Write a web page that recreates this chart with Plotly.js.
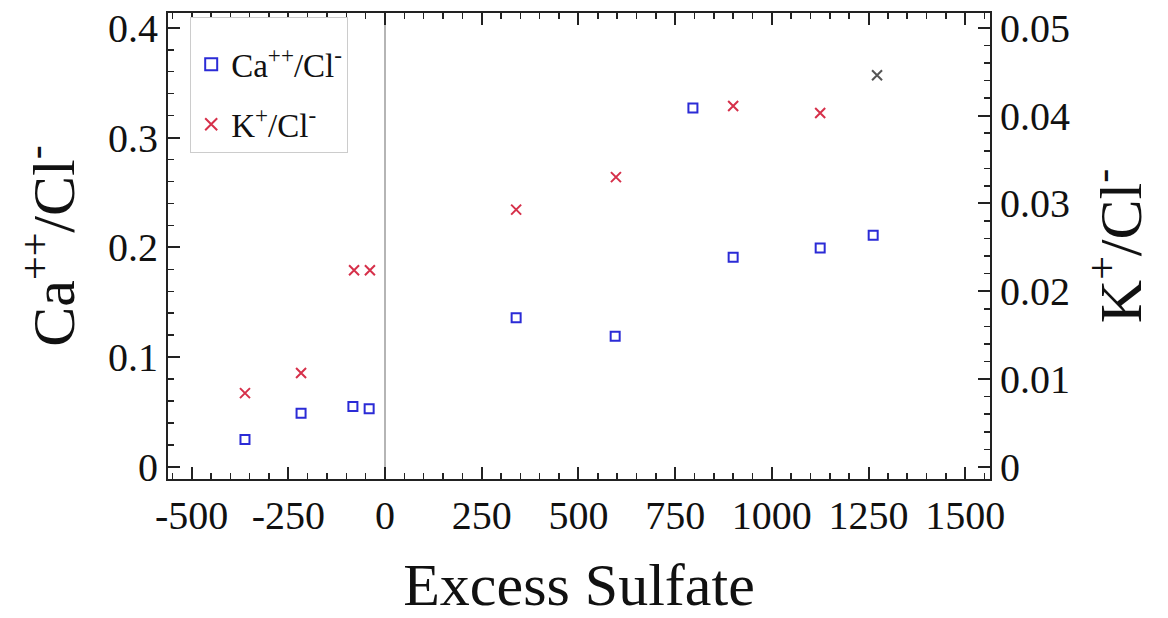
<!DOCTYPE html>
<html>
<head>
<meta charset="utf-8">
<script src="https://cdn.plot.ly/plotly-3.0.1.min.js"></script>
<style>html,body{margin:0;padding:0;background:#fff;}#chart{width:1168px;height:618px;}</style>
</head>
<body>
<div id="chart"></div>
<script>
// Data
var caExcess = [-362, -217, -83, -41, 339, 595, 796, 900, 1125, 1262];
var caRatio  = [0.025, 0.049, 0.055, 0.053, 0.136, 0.119, 0.327, 0.191, 0.1995, 0.211];
var kExcess  = [-362, -217, -80, -39, 339, 597, 900, 1125, 1272];
var kRatio   = [0.0084, 0.0107, 0.0224, 0.0224, 0.0293, 0.0330, 0.0411, 0.0403, 0.0446];
var xTicks   = [-500, -250, 0, 250, 500, 750, 1000, 1250, 1500];
var yTicks   = [0, 0.1, 0.2, 0.3, 0.4];
var y2Ticks  = [0, 0.01, 0.02, 0.03, 0.04, 0.05];

var serif = '"Liberation Serif", "DejaVu Serif", serif';
var red = '#d6304a', grey = '#555555';
var kColors = kExcess.map(function (v, i) { return i === kExcess.length - 1 ? grey : red; });

var traces = [
  {
    x: caExcess, y: caRatio, type: 'scatter', mode: 'markers',
    name: 'Ca<sup>++</sup>/Cl<sup>-</sup>', legendgroup: 'ca',
    marker: {symbol: 'square-open', size: 9, color: '#2b2bd6', line: {width: 2, color: '#2b2bd6'}},
    yaxis: 'y'
  },
  {
    x: kExcess, y: kRatio, type: 'scatter', mode: 'markers',
    name: 'K<sup>+</sup>/Cl<sup>-</sup>', legendgroup: 'k',
    marker: {symbol: 'x-thin-open', size: 10, color: kColors, line: {width: 2, color: kColors}},
    yaxis: 'y2'
  }
];

var layout = {
  width: 1168, height: 618,
  margin: {l: 168, r: 178, t: 13, b: 139},
  paper_bgcolor: '#ffffff', plot_bgcolor: '#ffffff',
  font: {family: serif, color: '#111111', size: 40},
  showlegend: true,
  legend: {
    x: 0.027, y: 0.991, xanchor: 'left', yanchor: 'top',
    bgcolor: '#ffffff', bordercolor: '#cccccc', borderwidth: 1,
    font: {family: serif, size: 33, color: '#111111'},
    title: {text: ' ', font: {size: 14}},
    itemsizing: 'constant', tracegroupgap: 14
  },
  xaxis: {
    range: [-561, 1564],
    tickvals: xTicks, ticktext: xTicks.map(String),
    ticks: 'inside', ticklen: 12, tickwidth: 2, tickcolor: '#222',
    minor: {ticks: 'inside', ticklen: 6, tickwidth: 1.5, dtick: 50, tickcolor: '#222', showgrid: false},
    showline: true, linecolor: '#222', linewidth: 2, mirror: 'ticks',
    showgrid: false, zeroline: true, zerolinecolor: '#b5b5b5', zerolinewidth: 2,
    tickfont: {family: serif, size: 40, color: '#111'},
    title: {text: 'Excess Sulfate', font: {family: serif, size: 60, color: '#111'}, standoff: 38}
  },
  yaxis: {
    range: [-0.011, 0.4135],
    tickvals: yTicks, ticktext: ['0', '0.1', '0.2', '0.3', '0.4'],
    ticks: 'inside', ticklen: 12, tickwidth: 2, tickcolor: '#222',
    minor: {ticks: 'inside', ticklen: 6, tickwidth: 1.5, dtick: 0.02, tick0: 0, tickcolor: '#222', showgrid: false},
    showline: true, linecolor: '#222', linewidth: 2,
    showgrid: false, zeroline: false,
    tickfont: {family: serif, size: 40, color: '#111'},
    title: {text: 'Ca<sup>++</sup>/Cl<sup>-</sup>', font: {family: serif, size: 60, color: '#111'}, standoff: 14}
  },
  yaxis2: {
    overlaying: 'y', side: 'right',
    range: [-0.001375, 0.0516875],
    tickvals: y2Ticks, ticktext: ['0', '0.01', '0.02', '0.03', '0.04', '0.05'],
    ticks: 'inside', ticklen: 12, tickwidth: 2, tickcolor: '#222',
    minor: {ticks: 'inside', ticklen: 6, tickwidth: 1.5, dtick: 0.002, tick0: 0, tickcolor: '#222', showgrid: false},
    showline: true, linecolor: '#222', linewidth: 2,
    showgrid: false, zeroline: false,
    tickfont: {family: serif, size: 40, color: '#111'},
    title: {text: 'K<sup>+</sup>/Cl<sup>-</sup>', font: {family: serif, size: 60, color: '#111'}, standoff: 30}
  }
};

Plotly.newPlot('chart', traces, layout, {displayModeBar: false, staticPlot: true});
</script>
</body>
</html>
